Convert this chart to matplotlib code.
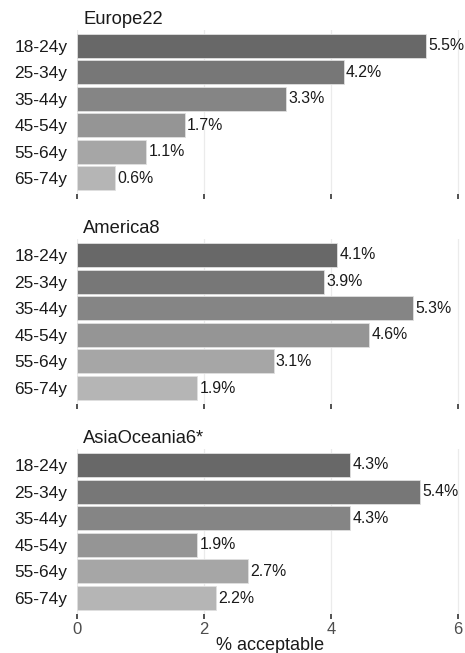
import matplotlib
matplotlib.use("Agg")
import matplotlib.pyplot as plt

plt.rcParams['font.family'] = ['Liberation Sans', 'DejaVu Sans']

age_groups = ["18-24y", "25-34y", "35-44y", "45-54y", "55-64y", "65-74y"]
regions = ["Europe22", "America8", "AsiaOceania6*"]
europe = [5.5, 4.2, 3.3, 1.7, 1.1, 0.6]
america = [4.1, 3.9, 5.3, 4.6, 3.1, 1.9]
asia_oceania = [4.3, 5.4, 4.3, 1.9, 2.7, 2.2]
x_ticks = [0, 2, 4, 6]
x_label = "% acceptable"

bar_colors = ["#686868", "#777777", "#858585", "#959595", "#a6a6a6", "#b5b5b5"]

W, H = 465, 653
fig = plt.figure(figsize=(W / 100, H / 100), dpi=100)

left_px, right_px = 76.5, 463
panels_px = [(30, 194), (239, 404), (449, 614)]
series = [europe, america, asia_oceania]
px_per_unit = (458 - 76.5) / 6

for i, (name, vals, (top, bot)) in enumerate(zip(regions, series, panels_px)):
    ax = fig.add_axes([left_px / W, 1 - bot / H, (right_px - left_px) / W, (bot - top) / H])
    ypos = list(range(len(age_groups)))
    ax.barh(ypos, vals, height=0.9, color=bar_colors, edgecolor="#e0e0e0",
            linewidth=0.6, zorder=2)
    for y, v in zip(ypos, vals):
        ax.text(v + 0.035, y, f"{v:.1f}%", va="center", ha="left",
                fontsize=11.4, color="#1a1a1a", zorder=3)
    ax.set_xlim(0, (right_px - left_px) / px_per_unit)
    ax.set_ylim(5.6, -0.6)
    ax.set_yticks(ypos)
    ax.set_yticklabels(age_groups, fontsize=12.4, color="#1a1a1a")
    ax.set_xticks(x_ticks)
    ax.grid(axis="x", color="#ebebeb", linewidth=0.9, zorder=0)
    ax.set_axisbelow(True)
    for s in ax.spines.values():
        s.set_visible(False)
    ax.tick_params(axis="y", length=0, pad=6.5)
    ax.tick_params(axis="x", length=3.5, width=1.2, color="#333333",
                   labelsize=12, labelcolor="#4d4d4d", pad=2)
    if i < 2:
        ax.set_xticklabels([])
    else:
        ax.set_xticklabels([str(t) for t in x_ticks])
        ax.set_xlabel(x_label, fontsize=13, color="#1a1a1a", labelpad=0)
    # facet title sits just above the panel
    fig.text(83 / W, 1 - (top - 6) / H, name, fontsize=13.2, color="#1a1a1a",
             ha="left", va="baseline")

fig.savefig("out.png", dpi=100, facecolor="white")
